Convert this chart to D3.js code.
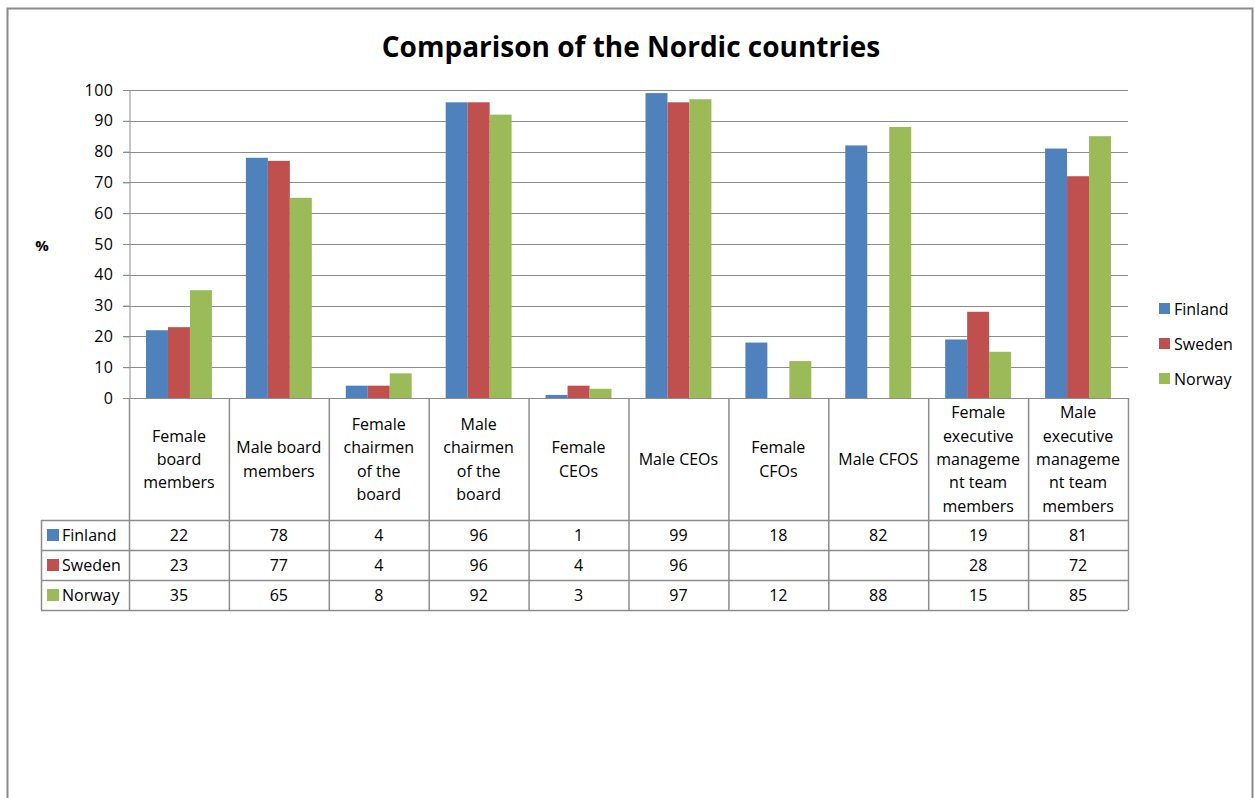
<!DOCTYPE html>
<meta charset="utf-8">
<head>
<style>
body{margin:0;background:#fff;}
svg{font-family:"Open Sans",Lato,sans-serif;}
.title{font-size:28px;font-weight:bold;text-anchor:middle;}
.tick text{font-size:16px;fill:#000;font-family:"Open Sans",sans-serif;letter-spacing:0.5px;}
.cell{font-size:16px;text-anchor:middle;}
.grid line{stroke:#8c8c8c;}
.tbl line{stroke:#8c8c8c;stroke-width:1.5px;}
</style>
</head>
<body>
<script src="https://d3js.org/d3.v7.min.js"></script>
<script>

var categories=[
 ["Female","board","members"],
 ["Male board","members"],
 ["Female","chairmen","of the","board"],
 ["Male","chairmen","of the","board"],
 ["Female","CEOs"],
 ["Male CEOs"],
 ["Female","CFOs"],
 ["Male CFOS"],
 ["Female","executive","manageme","nt team","members"],
 ["Male","executive","manageme","nt team","members"]
];
var seriesNames=["Finland","Sweden","Norway"];
var finland=[22,78,4,96,1,99,18,82,19,81];
var sweden=[23,77,4,96,4,96,null,null,28,72];
var norway=[35,65,8,92,3,97,12,88,15,85];
var yTicks=[0,10,20,30,40,50,60,70,80,90,100];
var colors=["#4F81BD","#C0504D","#9BBB59"];

var values=[finland,sweden,norway];
var W=1255,H=798;
var svg=d3.select("body").append("svg").attr("width",W).attr("height",H);

// outer frame
svg.append("rect").attr("x",7.5).attr("y",8.5).attr("width",1245).attr("height",H+10)
	.attr("fill","none").attr("stroke","#8a8a8a").attr("stroke-width",2);

svg.append("text").attr("class","title").attr("x",631).attr("y",57).text("Comparison of the Nordic countries");

var idx=d3.range(categories.length);
var x=d3.scaleBand().domain(idx).range([129,1128]);
var x1=d3.scaleBand().domain(seriesNames).range([x.bandwidth()*0.17,x.bandwidth()*0.83]);
var y=d3.scaleLinear().domain([0,100]).range([398,90]);

// gridlines
svg.append("g").attr("class","grid").selectAll("line").data(yTicks).join("line")
	.attr("x1",123).attr("x2",1128).attr("y1",d=>Math.round(y(d))+0.5).attr("y2",d=>Math.round(y(d))+0.5);

var yAxis=svg.append("g").attr("transform","translate(129.5,0)")
	.call(d3.axisLeft(y).tickValues(yTicks).tickSize(6).tickPadding(6));
yAxis.select(".domain").attr("stroke","#8c8c8c");
yAxis.selectAll(".tick line").attr("stroke","#8c8c8c");
yAxis.selectAll(".tick text").attr("dx","-4px");

svg.append("text").attr("x",42).attr("y",251).attr("font-size","15px").attr("font-weight","bold")
	.attr("text-anchor","middle").text("%");

// bars
var barData=[];
values.forEach(function(vals,s){
	vals.forEach(function(v,i){ if(v!=null) barData.push({i:i,s:s,v:v}); });
});
svg.append("g").selectAll("rect").data(barData).join("rect")
	.attr("x",d=>x(d.i)+x1(seriesNames[d.s]))
	.attr("width",x1.bandwidth())
	.attr("y",d=>y(d.v))
	.attr("height",d=>y(0)-y(d.v))
	.attr("fill",d=>colors[d.s]);

// legend
var lg=svg.append("g");
seriesNames.forEach(function(n,s){
	var ly=309+s*35;
	lg.append("rect").attr("x",1159).attr("y",ly-6).attr("width",11).attr("height",11).attr("fill",colors[s]);
	lg.append("text").attr("x",1174).attr("y",ly+6).attr("font-size","16px").text(n);
});

// data table
var tbl=svg.append("g").attr("class","tbl");
var rowTop=398,hdrBottom=520,rowH=30;
var rowYs=[hdrBottom,hdrBottom+rowH,hdrBottom+2*rowH,hdrBottom+3*rowH];
rowYs.forEach(function(ry){
	tbl.append("line").attr("x1",41).attr("x2",1128).attr("y1",ry+0.5).attr("y2",ry+0.5);
});
idx.concat([categories.length]).forEach(function(i){
	var vx=i<categories.length?x(i):x.range()[1];
	tbl.append("line").attr("x1",vx+0.5).attr("x2",vx+0.5).attr("y1",rowTop).attr("y2",rowYs[3]);
});
tbl.append("line").attr("x1",41.5).attr("x2",41.5).attr("y1",hdrBottom).attr("y2",rowYs[3]);

// header labels
var hdr=svg.append("g").selectAll("text").data(idx).join("text").attr("class","cell")
	.attr("y",d=>459+6-(categories[d].length-1)*23.3/2);
hdr.each(function(d){
	var t=d3.select(this);
	categories[d].forEach(function(line,k){
		t.append("tspan").attr("x",x(d)+x.bandwidth()/2).attr("dy",k?23.3:0).text(line);
	});
});

// rows
seriesNames.forEach(function(n,s){
	var cy=rowYs[s]+rowH/2;
	svg.append("rect").attr("x",47).attr("y",cy-6).attr("width",12).attr("height",12).attr("fill",colors[s]);
	svg.append("text").attr("x",62).attr("y",cy+6).attr("font-size","16px").text(n);
	svg.append("g").selectAll("text").data(idx).join("text").attr("class","cell")
		.attr("x",i=>x(i)+x.bandwidth()/2).attr("y",cy+6)
		.text(i=>values[s][i]==null?"":values[s][i]);
});
</script>
</body>
</html>
